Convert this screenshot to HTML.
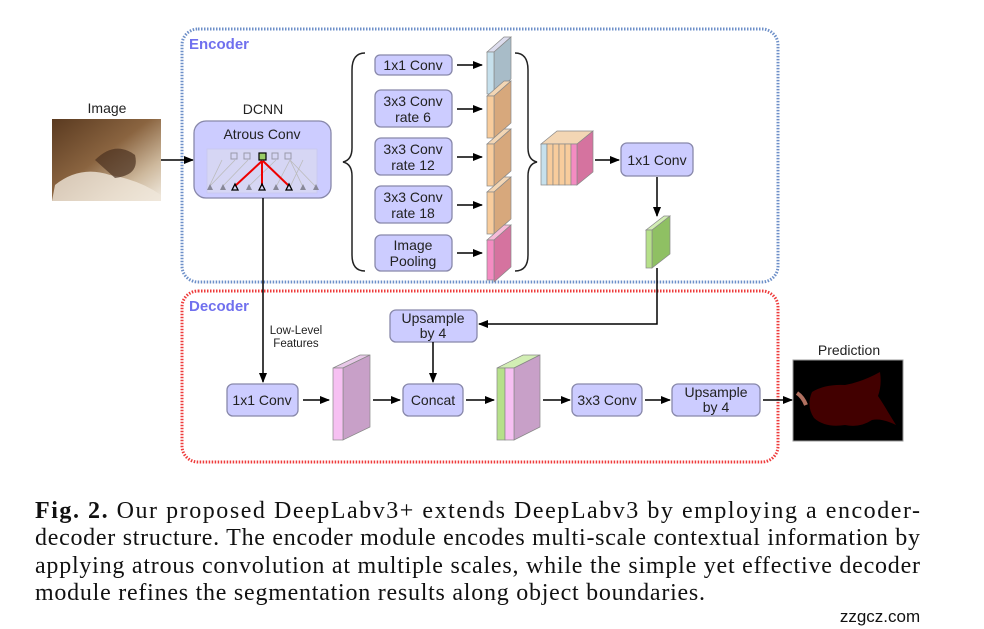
<!DOCTYPE html>
<html><head><meta charset="utf-8"><style>
html,body{margin:0;padding:0;background:#fff;}
svg{display:block;}
.b{fill:#ccccff;stroke:#8888aa;stroke-width:1.3;}
.t{font-family:"Liberation Sans",sans-serif;font-size:14px;fill:#222;text-anchor:middle;}
.c{font-family:"Liberation Serif",serif;font-size:24px;fill:#111;}
</style></head><body>
<svg width="984" height="629" viewBox="0 0 984 629" xmlns="http://www.w3.org/2000/svg">
<defs>
<marker id="a" markerWidth="10" markerHeight="8" refX="9" refY="4" orient="auto" markerUnits="userSpaceOnUse"><path d="M0,0 L10,4 L0,8 z" fill="#000"/></marker>
<linearGradient id="cat" x1="0" y1="0" x2="1" y2="1">
<stop offset="0" stop-color="#5a3a20"/><stop offset="0.45" stop-color="#8a6440"/><stop offset="0.75" stop-color="#cdb89c"/><stop offset="1" stop-color="#f2ece2"/></linearGradient>
</defs>
<rect x="182" y="29" width="596" height="253" rx="16" fill="none" stroke="#6d8fc8" stroke-width="3" stroke-dasharray="1.5 1.5"/>
<rect x="182" y="291" width="596" height="171" rx="16" fill="none" stroke="#ee3b3b" stroke-width="3" stroke-dasharray="1.5 1.5"/>
<text x="189" y="49" style="font-family:'Liberation Sans',sans-serif;font-size:15px;font-weight:bold;fill:#7070ee">Encoder</text>
<text x="189" y="311" style="font-family:'Liberation Sans',sans-serif;font-size:15px;font-weight:bold;fill:#7070ee">Decoder</text>
<text class="t" x="107" y="113">Image</text>
<rect x="52" y="119" width="109" height="82" fill="url(#cat)"/>
<path d="M55,185 Q80,165 110,175 Q140,180 161,195 L161,201 L52,201z" fill="#efe6da" opacity="0.8"/>
<path d="M95,160 Q115,140 135,155 Q140,175 115,178z" fill="#4a3020" opacity="0.7"/>
<line x1="161" y1="160" x2="193" y2="160" stroke="#000" stroke-width="1.5" marker-end="url(#a)"/>
<text class="t" x="263" y="114">DCNN</text>
<rect class="b" x="194" y="121" width="137" height="77" rx="12"/>
<text class="t" x="262" y="139">Atrous Conv</text>
<g stroke="#bbb" stroke-width="0.8" fill="none">
<rect x="207" y="149" width="110" height="44" fill="#d6d6f4" stroke="#c8c8ee"/>
<path d="M209,187 L235,160 M222,187 L248,160 M235,187 L263,160 M248,187 L276,160 M276,187 L290,160 M290,187 L303,160 M303,187 L290,160 M209,187 L222,160 M316,187 L290,160"/>
</g>
<g fill="none" stroke="#99a" stroke-width="1"><rect x="231" y="153" width="6" height="6"/><rect x="244" y="153" width="6" height="6"/><rect x="272" y="153" width="6" height="6"/><rect x="285" y="153" width="6" height="6"/></g>
<rect x="259" y="153" width="7" height="7" fill="#9c6" stroke="#000" stroke-width="1.2"/>
<g stroke="#e00" stroke-width="2"><line x1="235" y1="186" x2="262" y2="161"/><line x1="262" y1="186" x2="262" y2="161"/><line x1="289" y1="186" x2="263" y2="161"/></g>
<g fill="#889"><path d="M207,190 l3,-6 l3,6z M220,190 l3,-6 l3,6z M246,190 l3,-6 l3,6z M273,190 l3,-6 l3,6z M300,190 l3,-6 l3,6z M313,190 l3,-6 l3,6z"/></g>
<g fill="none" stroke="#000" stroke-width="1.3"><path d="M232,190 l3,-6 l3,6z M259,190 l3,-6 l3,6z M286,190 l3,-6 l3,6z"/></g>
<path d="M365,53 Q352,53 352,70 L352,148 Q352,160 343,162 Q352,164 352,176 L352,255 Q352,271 365,271" fill="none" stroke="#222" stroke-width="1.5"/>
<path d="M515,53 Q528,53 528,70 L528,148 Q528,160 537,162 Q528,164 528,176 L528,255 Q528,271 515,271" fill="none" stroke="#222" stroke-width="1.5"/>
<rect class="b" x="375" y="55" width="77" height="20" rx="5"/><text class="t" x="413" y="70">1x1 Conv</text>
<rect class="b" x="375" y="90" width="77" height="37" rx="6"/><text class="t" x="413" y="106">3x3 Conv</text><text class="t" x="413" y="122">rate 6</text>
<rect class="b" x="375" y="138" width="77" height="37" rx="6"/><text class="t" x="413" y="154">3x3 Conv</text><text class="t" x="413" y="170">rate 12</text>
<rect class="b" x="375" y="186" width="77" height="37" rx="6"/><text class="t" x="413" y="202">3x3 Conv</text><text class="t" x="413" y="218">rate 18</text>
<rect class="b" x="375" y="235" width="77" height="36" rx="6"/><text class="t" x="413" y="250">Image</text><text class="t" x="413" y="266">Pooling</text>
<g stroke="#000" stroke-width="1.5" marker-end="url(#a)"><line x1="457" y1="65" x2="482" y2="65"/><line x1="457" y1="109" x2="482" y2="109"/><line x1="457" y1="157" x2="482" y2="157"/><line x1="457" y1="205" x2="482" y2="205"/><line x1="457" y1="253" x2="482" y2="253"/></g>
<g stroke="#888" stroke-width="0.7">
<polygon points="487,52 494,52 511,37 504,37" fill="#dde"/><polygon points="494,52 511,37 511,79 494,94" fill="#a8bcc8"/><rect x="487" y="52" width="7" height="42" fill="#c6e0ec"/>
<polygon points="487,96 494,96 511,81 504,81" fill="#f3d6b4"/><polygon points="494,96 511,81 511,123 494,138" fill="#d7a87c"/><rect x="487" y="96" width="7" height="42" fill="#f8cc9c"/>
<polygon points="487,144 494,144 511,129 504,129" fill="#f3d6b4"/><polygon points="494,144 511,129 511,171 494,186" fill="#d7a87c"/><rect x="487" y="144" width="7" height="42" fill="#f8cc9c"/>
<polygon points="487,192 494,192 511,177 504,177" fill="#f3d6b4"/><polygon points="494,192 511,177 511,219 494,234" fill="#d7a87c"/><rect x="487" y="192" width="7" height="42" fill="#f8cc9c"/>
<polygon points="487,240 494,240 511,225 504,225" fill="#f7bcd8"/><polygon points="494,240 511,225 511,267 494,282" fill="#d5739f"/><rect x="487" y="240" width="7" height="40" fill="#f48cc2"/>
</g>
<g stroke="#888" stroke-width="0.7">
<polygon points="541,144 577,144 593,131 557,131" fill="#f3d6b4"/>
<polygon points="577,144 593,131 593,172 577,185" fill="#d5739f"/>
<rect x="541" y="144" width="6" height="41" fill="#c6e0ec"/>
<rect x="547" y="144" width="6" height="41" fill="#f8cc9c"/>
<rect x="553" y="144" width="6" height="41" fill="#f8cc9c"/>
<rect x="559" y="144" width="6" height="41" fill="#f8cc9c"/>
<rect x="565" y="144" width="6" height="41" fill="#f8cc9c"/>
<rect x="571" y="144" width="6" height="41" fill="#f48cc2"/>
</g>
<line x1="595" y1="160" x2="619" y2="160" stroke="#000" stroke-width="1.5" marker-end="url(#a)"/>
<rect class="b" x="621" y="143" width="72" height="33" rx="6"/><text class="t" x="657" y="165">1x1 Conv</text>
<line x1="657" y1="177" x2="657" y2="216" stroke="#000" stroke-width="1.5" marker-end="url(#a)"/>
<g stroke="#888" stroke-width="0.7">
<polygon points="646,230 652,230 670,216 664,216" fill="#d2eeb4"/><polygon points="652,230 670,216 670,254 652,268" fill="#8fc063"/><rect x="646" y="230" width="6" height="38" fill="#b6e08a"/>
</g>
<polyline points="657,268 657,324 479,324" fill="none" stroke="#000" stroke-width="1.5" marker-end="url(#a)"/>
<rect class="b" x="390" y="310" width="87" height="32" rx="6"/><text class="t" x="433" y="323">Upsample</text><text class="t" x="433" y="338">by 4</text>
<line x1="433" y1="342" x2="433" y2="382" stroke="#000" stroke-width="1.5" marker-end="url(#a)"/>
<line x1="263" y1="198" x2="263" y2="382" stroke="#000" stroke-width="1.5" marker-end="url(#a)"/>
<text x="296" y="334" style="font-family:'Liberation Sans',sans-serif;font-size:11.5px;fill:#222;text-anchor:middle">Low-Level</text>
<text x="296" y="347" style="font-family:'Liberation Sans',sans-serif;font-size:11.5px;fill:#222;text-anchor:middle">Features</text>
<rect class="b" x="227" y="384" width="71" height="32" rx="6"/><text class="t" x="262" y="405">1x1 Conv</text>
<line x1="303" y1="400" x2="329" y2="400" stroke="#000" stroke-width="1.5" marker-end="url(#a)"/>
<g stroke="#888" stroke-width="0.7">
<polygon points="333,368 343,368 370,355 360,355" fill="#e8c8e8"/><polygon points="343,368 370,355 370,427 343,440" fill="#c8a0c8"/><rect x="333" y="368" width="10" height="72" fill="#f6c0f2"/>
</g>
<line x1="373" y1="400" x2="400" y2="400" stroke="#000" stroke-width="1.5" marker-end="url(#a)"/>
<rect class="b" x="403" y="384" width="60" height="32" rx="6"/><text class="t" x="433" y="405">Concat</text>
<line x1="466" y1="400" x2="494" y2="400" stroke="#000" stroke-width="1.5" marker-end="url(#a)"/>
<g stroke="#888" stroke-width="0.7">
<polygon points="497,368 514,368 540,355 523,355" fill="#d2eeb4"/><polygon points="514,368 540,355 540,427 514,440" fill="#c8a0c8"/><rect x="497" y="368" width="8" height="72" fill="#b6e08a"/><rect x="505" y="368" width="9" height="72" fill="#f6c0f2"/>
</g>
<line x1="543" y1="400" x2="570" y2="400" stroke="#000" stroke-width="1.5" marker-end="url(#a)"/>
<rect class="b" x="572" y="384" width="70" height="32" rx="6"/><text class="t" x="607" y="405">3x3 Conv</text>
<line x1="645" y1="400" x2="670" y2="400" stroke="#000" stroke-width="1.5" marker-end="url(#a)"/>
<rect class="b" x="672" y="384" width="88" height="32" rx="6"/><text class="t" x="716" y="397">Upsample</text><text class="t" x="716" y="412">by 4</text>
<line x1="763" y1="400" x2="792" y2="400" stroke="#000" stroke-width="1.5" marker-end="url(#a)"/>
<text class="t" x="849" y="355">Prediction</text>
<rect x="793" y="360" width="110" height="81" fill="#000" stroke="#999" stroke-width="1"/>
<path d="M812,392 Q825,384 845,385 Q862,382 880,372 Q882,385 878,396 Q884,405 888,412 L896,425 Q882,418 872,420 Q860,428 845,425 Q825,428 814,418 Q806,406 812,392z" fill="#420000"/>
<path d="M797,393 Q803,397 806,405" stroke="#b07060" stroke-width="4" fill="none"/>
<text class="c" x="35" y="518" textLength="885" lengthAdjust="spacing"><tspan font-weight="bold">Fig. 2.</tspan> Our proposed DeepLabv3+ extends DeepLabv3 by employing a encoder-</text>
<text class="c" x="35" y="545" textLength="885" lengthAdjust="spacing">decoder structure. The encoder module encodes multi-scale contextual information by</text>
<text class="c" x="35" y="573" textLength="885" lengthAdjust="spacing">applying atrous convolution at multiple scales, while the simple yet effective decoder</text>
<text class="c" x="35" y="600" textLength="670" lengthAdjust="spacing">module refines the segmentation results along object boundaries.</text>
<text x="880" y="622" style="font-family:'Liberation Sans',sans-serif;font-size:17px;fill:#111;text-anchor:middle">zzgcz.com</text>
</svg>
</body></html>
